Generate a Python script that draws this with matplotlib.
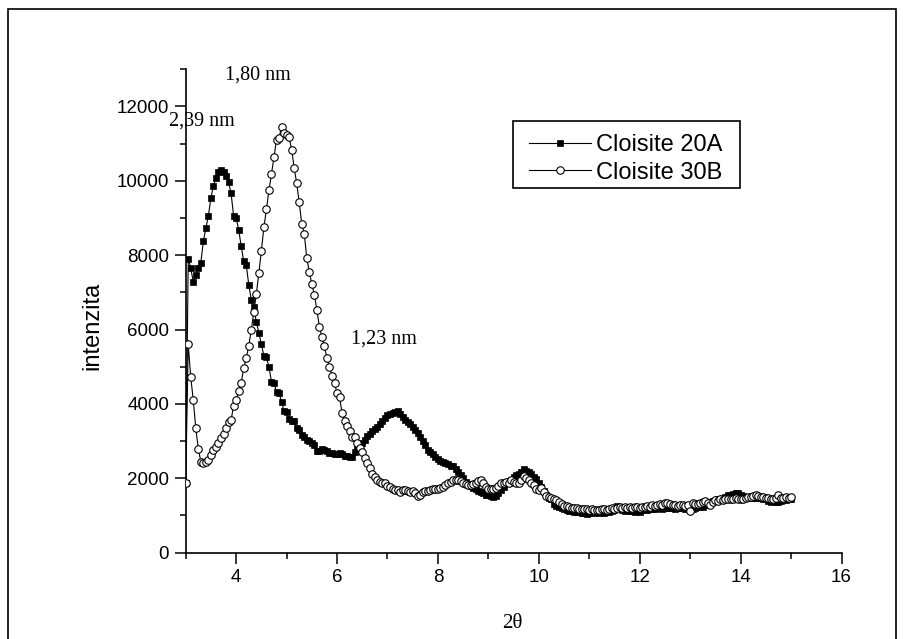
import numpy as np
import matplotlib
matplotlib.use("Agg")
import matplotlib.pyplot as plt
from matplotlib.ticker import MultipleLocator
from matplotlib.lines import Line2D
from matplotlib.patches import Rectangle

# XRD scan: 2-theta from 3 to 15 degrees, 0.05 degree step
two_theta = np.linspace(3.0, 15.0, 241)

cloisite_20a = [
    1880, 7900, 7650, 7290, 7470, 7650, 7800, 8370, 8730, 9060, 9540, 9870, 10080, 10250, 10300, 10250, 10120, 9960, 9660, 9050,
    9000, 8690, 8240, 7840, 7740, 7210, 6800, 6600, 6200, 5920, 5600, 5290, 5250, 5000, 4600, 4560, 4330, 4300, 4060, 3800,
    3790, 3600, 3530, 3540, 3350, 3300, 3170, 3100, 3030, 2990, 2940, 2900, 2740, 2720, 2790, 2760, 2720, 2690, 2670, 2660,
    2650, 2670, 2640, 2610, 2600, 2580, 2560, 2700, 2800, 2880, 2950, 3040, 3130, 3200, 3260, 3330, 3390, 3460, 3530, 3620,
    3700, 3720, 3750, 3780, 3800, 3720, 3660, 3580, 3520, 3450, 3390, 3300, 3230, 3100, 3000, 2900, 2760, 2700, 2660, 2560,
    2510, 2460, 2440, 2400, 2380, 2340, 2320, 2240, 2180, 2080, 2000, 1900, 1840, 1790, 1740, 1700, 1670, 1630, 1600, 1560,
    1540, 1510, 1500, 1520, 1590, 1680, 1770, 1860, 1930, 1960, 2040, 2090, 2110, 2170, 2260, 2200, 2170, 2110, 2030, 1990,
    1880, 1770, 1650, 1560, 1470, 1430, 1300, 1260, 1220, 1190, 1160, 1140, 1130, 1110, 1100, 1100, 1080, 1060, 1070, 1050,
    1070, 1080, 1060, 1080, 1070, 1080, 1060, 1090, 1100, 1120, 1150, 1250, 1230, 1140, 1120, 1140, 1110, 1120, 1100, 1140,
    1080, 1150, 1170, 1150, 1180, 1160, 1170, 1190, 1200, 1180, 1200, 1190, 1210, 1200, 1180, 1210, 1190, 1200, 1180, 1160,
    1200, 1170, 1200, 1230, 1260, 1240, 1290, 1320, 1350, 1380, 1400, 1430, 1450, 1480, 1500, 1560, 1540, 1570, 1600, 1610,
    1560, 1520, 1500, 1480, 1470, 1490, 1480, 1470, 1460, 1440, 1450, 1400, 1370, 1380, 1360, 1370, 1390, 1410, 1420, 1430,
    1440,
]

cloisite_30b = [
    1880, 5600, 4720, 4100, 3340, 2800, 2440, 2420, 2450, 2500, 2620, 2760, 2850, 2960, 3080, 3200, 3350, 3520, 3570, 3950,
    4110, 4340, 4560, 4960, 5230, 5560, 5990, 6470, 6950, 7520, 8120, 8750, 9230, 9740, 10180, 10650, 11100, 11150, 11460, 11290,
    11240, 11170, 10840, 10350, 9940, 9420, 8850, 8580, 7920, 7560, 7220, 6940, 6530, 6080, 5800, 5550, 5230, 5000, 4750, 4570,
    4280, 4180, 3750, 3550, 3410, 3280, 3120, 3100, 2960, 2810, 2700, 2540, 2410, 2270, 2120, 2040, 1960, 1900, 1880, 1860,
    1800, 1770, 1710, 1690, 1680, 1640, 1680, 1690, 1660, 1640, 1670, 1590, 1520, 1550, 1630, 1650, 1670, 1690, 1700, 1710,
    1710, 1730, 1770, 1830, 1870, 1910, 1950, 1960, 1950, 1930, 1870, 1850, 1830, 1820, 1840, 1880, 1930, 1950, 1870, 1760,
    1720, 1700, 1700, 1740, 1790, 1860, 1860, 1900, 1870, 1950, 1900, 1870, 1860, 1960, 2060, 2010, 1950, 1880, 1820, 1700,
    1690, 1730, 1640, 1520, 1500, 1460, 1440, 1410, 1370, 1300, 1260, 1250, 1220, 1210, 1200, 1190, 1180, 1170, 1160, 1170,
    1150, 1160, 1140, 1150, 1140, 1160, 1170, 1150, 1180, 1190, 1170, 1210, 1220, 1200, 1220, 1210, 1230, 1210, 1220, 1230,
    1210, 1230, 1240, 1260, 1240, 1270, 1250, 1280, 1300, 1290, 1330, 1340, 1300, 1270, 1280, 1260, 1290, 1280, 1250, 1270,
    1130, 1340, 1320, 1300, 1330, 1360, 1400, 1330, 1280, 1350, 1410, 1400, 1430, 1420, 1440, 1430, 1450, 1440, 1460, 1450,
    1430, 1450, 1470, 1490, 1500, 1530, 1550, 1520, 1500, 1490, 1470, 1460, 1440, 1430, 1480, 1550, 1470, 1460, 1500, 1480,
    1490,
]

series_labels = ["Cloisite 20A", "Cloisite 30B"]
peak_labels = ["1,80 nm", "2,39 nm", "1,23 nm"]
x_ticks = [4, 6, 8, 10, 12, 14, 16]
y_ticks = [0, 2000, 4000, 6000, 8000, 10000, 12000]

SANS = "Liberation Sans"
SERIF = "Liberation Serif"

W, H = 904, 639
fig = plt.figure(figsize=(W / 100, H / 100), dpi=100)
fig.patch.set_facecolor("white")


def fx(px):
    return px / W


def fy(py):
    return 1 - py / H


# thin frame around the whole graphic (open at the bottom)
fig.patches.append(Rectangle((fx(8), -0.05), (896 - 8) / W, 1.05 - 9 / H,
                             transform=fig.transFigure, fill=False,
                             edgecolor="black", linewidth=1.2))

ax = fig.add_axes([fx(185.7), fy(552.6), (841.5 - 185.7) / W, (552.6 - 69.3) / H])

style_20a = dict(color="black", linewidth=0.8, marker="s", markersize=4.8,
                 markerfacecolor="black", markeredgecolor="black",
                 markeredgewidth=0.5)
style_30b = dict(color="black", linewidth=0.8, marker="o", markersize=5.4,
                 markerfacecolor="white", markeredgecolor="black",
                 markeredgewidth=0.8)

ax.plot(two_theta, cloisite_20a, zorder=3, **style_20a)
ax.plot(two_theta, cloisite_30b, zorder=4, **style_30b)

ax.set_xlim(3, 16)
ax.set_ylim(0, 13000)
ax.xaxis.set_minor_locator(MultipleLocator(1))
ax.yaxis.set_minor_locator(MultipleLocator(1000))
ax.set_xticks(x_ticks)
ax.set_yticks(y_ticks)

for side in ("top", "right"):
    ax.spines[side].set_visible(False)
for side in ("left", "bottom"):
    ax.spines[side].set_linewidth(1.2)

ax.tick_params(which="major", direction="out", length=8, width=1.1,
               labelsize=13.5, pad=4)
ax.tick_params(which="minor", direction="out", length=4.2, width=1.1)
for lab in ax.get_xticklabels() + ax.get_yticklabels():
    lab.set_family(SANS)

# axis titles
fig.text(fx(92), fy(326), "intenzita", rotation=90, ha="center",
         va="center", fontsize=17, family=SANS)
fig.text(fx(512), fy(623), "2θ", ha="center", va="center",
         fontsize=15, family=SERIF)

# d-spacing annotations
fig.text(fx(257.6), fy(75.4), peak_labels[0], ha="center", va="center",
         fontsize=14.5, family=SERIF)
fig.text(fx(201.7), fy(120.6), peak_labels[1], ha="center", va="center",
         fontsize=14.5, family=SERIF)
fig.text(fx(384.4), fy(339), peak_labels[2], ha="center", va="center",
         fontsize=14.5, family=SERIF)

# legend box drawn in figure coordinates
fig.patches.append(Rectangle((fx(513), fy(188.3)), (739.5 - 513) / W,
                             (188.3 - 120.6) / H, transform=fig.transFigure,
                             facecolor="white", edgecolor="black",
                             linewidth=1.2, zorder=5))
for row_y, style, label in zip((142.6, 170.3), (style_20a, style_30b), series_labels):
    fig.lines.append(Line2D([fx(529), fx(591)], [fy(row_y), fy(row_y)],
                            transform=fig.transFigure, color="black",
                            linewidth=0.8, zorder=6))
    marker_style = {k: v for k, v in style.items() if k not in ("color", "linewidth")}
    fig.lines.append(Line2D([fx(560)], [fy(row_y)], transform=fig.transFigure,
                            linestyle="none", zorder=7, **marker_style))
    fig.text(fx(596.5), fy(row_y), label, ha="left", va="center_baseline",
             fontsize=17, family=SANS, zorder=7)

fig.savefig("out.png", dpi=100, facecolor="white")
